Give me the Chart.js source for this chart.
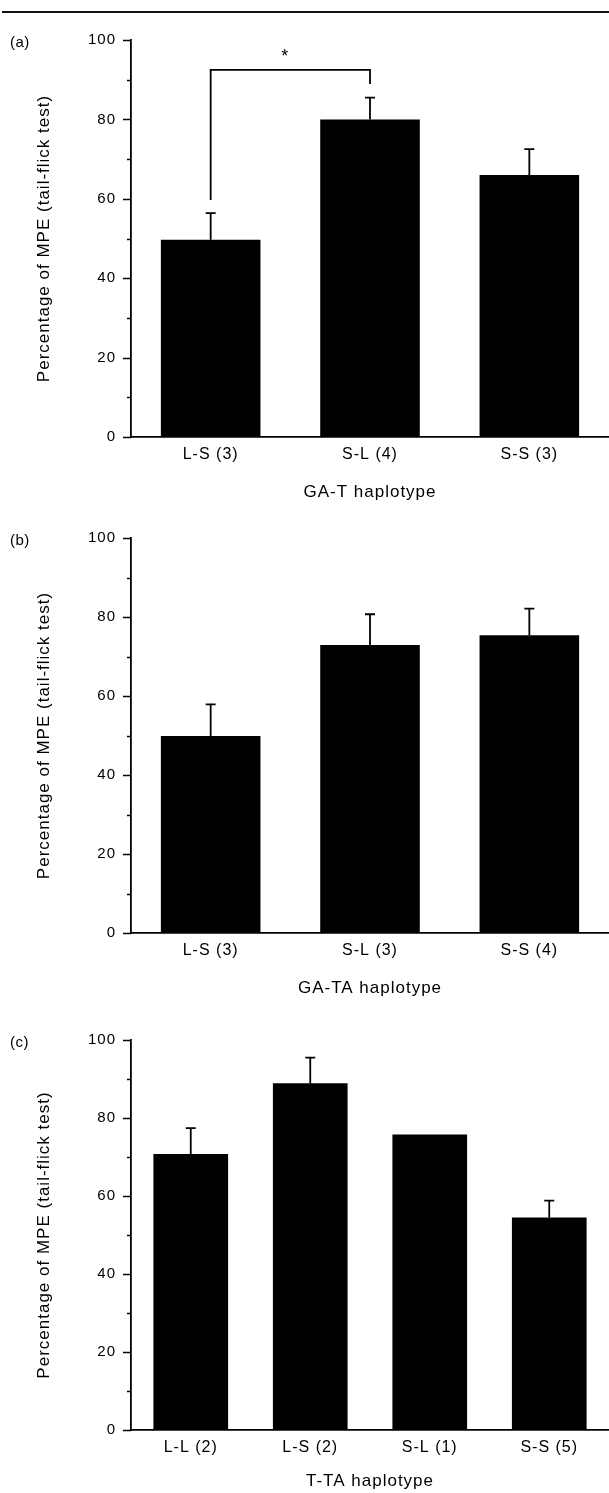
<!DOCTYPE html>
<html>
<head>
<meta charset="utf-8">
<script src="https://cdn.jsdelivr.net/npm/chart.js@4.4.1/dist/chart.umd.min.js"></script>
<style>
  html, body { margin: 0; padding: 0; background: #fff; }
  body { width: 609px; height: 1493px; position: relative; overflow: hidden; }
  .rule { position: absolute; left: 2px; right: 0; top: 11px; height: 2px; background: #111; }
  .panel { position: absolute; left: 0; }
  .tag { position: absolute; left: 10px; font: 15px "Liberation Sans", Arial, sans-serif; color: #000; letter-spacing: 0.5px; }
</style>
</head>
<body>
<div class="rule"></div>

<script>
// values (mean and top of the SEM whisker)
const yTitle = 'Percentage of MPE (tail-flick test)';
const yTicks = [0, 20, 40, 60, 80, 100];

const catsA = ['L-S (3)', 'S-L (4)', 'S-S (3)'];
const meanA = [49.7, 80.0, 66.0];
const errTopA = [56.4, 85.5, 72.5];

const catsB = ['L-S (3)', 'S-L (3)', 'S-S (4)'];
const meanB = [49.9, 72.9, 75.4];
const errTopB = [57.9, 80.7, 82.1];

const catsC = ['L-L (2)', 'L-S (2)', 'S-L (1)', 'S-S (5)'];
const meanC = [70.8, 88.9, 75.8, 54.5];
const errTopC = [77.4, 95.5, null, 58.8];

const xTitles = ['GA-T haplotype', 'GA-TA haplotype', 'T-TA haplotype'];
const panelTags = ['(a)', '(b)', '(c)'];

// significance bracket in panel (a): L-S vs S-L
const bracketPair = [0, 1];
const bracketY = [59.7, 92.5, 88.9]; // left foot, top, right foot
const bracketMark = '*';

const FONT = '"Liberation Sans", Arial, Helvetica, sans-serif';

const spacing = {
  id: 'spacing',
  beforeDraw(chart) { chart.ctx.letterSpacing = '1px'; }
};

const yMarks = {
  id: 'yMarks',
  afterDraw(chart) {
    const { ctx, chartArea } = chart;
    const y = chart.scales.y;
    ctx.save();
    ctx.strokeStyle = '#000';
    ctx.lineWidth = 1.5;
    for (let v = 0; v <= 100; v += 10) {
      const py = Math.round(y.getPixelForValue(v)) + 0.5;
      const len = v % 20 === 0 ? 8 : 4;
      ctx.beginPath();
      ctx.moveTo(chartArea.left - len, py);
      ctx.lineTo(chartArea.left, py);
      ctx.stroke();
    }
    ctx.restore();
  }
};

const errorBars = {
  id: 'errorBars',
  afterDatasetsDraw(chart, args, opts) {
    if (!opts.tops) return;
    const ctx = chart.ctx;
    const y = chart.scales.y;
    const meta = chart.getDatasetMeta(0);
    ctx.save();
    ctx.strokeStyle = '#000';
    ctx.lineWidth = 1.8;
    opts.tops.forEach((v, i) => {
      if (v == null) return;
      const bar = meta.data[i];
      const yt = y.getPixelForValue(v);
      ctx.beginPath();
      ctx.moveTo(bar.x, bar.y);
      ctx.lineTo(bar.x, yt);
      ctx.moveTo(bar.x - 5, yt);
      ctx.lineTo(bar.x + 5, yt);
      ctx.stroke();
    });
    ctx.restore();
  }
};

const bracket = {
  id: 'bracket',
  afterDatasetsDraw(chart, args, opts) {
    if (!opts.pair) return;
    const ctx = chart.ctx;
    const x = chart.scales.x, y = chart.scales.y;
    const x1 = x.getPixelForValue(opts.pair[0]);
    const x2 = x.getPixelForValue(opts.pair[1]);
    ctx.save();
    ctx.strokeStyle = '#000';
    ctx.lineWidth = 1.8;
    ctx.beginPath();
    ctx.moveTo(x1, y.getPixelForValue(opts.levels[0]));
    ctx.lineTo(x1, y.getPixelForValue(opts.levels[1]));
    ctx.lineTo(x2, y.getPixelForValue(opts.levels[1]));
    ctx.lineTo(x2, y.getPixelForValue(opts.levels[2]));
    ctx.stroke();
    ctx.fillStyle = '#000';
    ctx.font = '18px ' + FONT;
    ctx.textAlign = 'center';
    ctx.textBaseline = 'middle';
    ctx.fillText(opts.mark, (x1 + x2) / 2 - 5, y.getPixelForValue(opts.levels[1]) - 13);
    ctx.restore();
  }
};

function makePanel(idx, cats, means, tops, top100, base0, titlePad, extra) {
  const canvasTop = top100 - 40;
  const h = base0 + 70 - canvasTop;
  const wrap = document.createElement('div');
  wrap.className = 'panel';
  wrap.style.top = canvasTop + 'px';
  const canvas = document.createElement('canvas');
  canvas.width = 609;
  canvas.height = h;
  wrap.appendChild(canvas);
  document.body.appendChild(wrap);

  const tag = document.createElement('div');
  tag.className = 'tag';
  tag.textContent = panelTags[idx];
  tag.style.top = (top100 - 7) + 'px';
  document.body.appendChild(tag);

  new Chart(canvas.getContext('2d'), {
    type: 'bar',
    data: {
      labels: cats,
      datasets: [{
        data: means,
        backgroundColor: '#000',
        borderWidth: 0,
        categoryPercentage: 1,
        barPercentage: 0.625
      }]
    },
    options: {
      responsive: false,
      animation: false,
      events: [],
      layout: { padding: { top: 40, left: 0, right: 0, bottom: 0 } },
      scales: {
        x: {
          grid: { display: false, drawTicks: false },
          border: { display: true, color: '#000', width: 1.8 },
          ticks: { color: '#000', padding: 8, font: { family: FONT, size: 16 } },
          title: {
            display: true, text: xTitles[idx], color: '#000',
            font: { family: FONT, size: 17 }, padding: { top: 0, bottom: titlePad }
          },
          afterFit(scale) { scale.height = 70; }
        },
        y: {
          min: 0, max: 100,
          afterBuildTicks(scale) { scale.ticks = yTicks.map(v => ({ value: v })); },
          grid: { display: false, drawTicks: false },
          border: { display: true, color: '#000', width: 1.8 },
          ticks: { color: '#000', padding: 15, font: { family: FONT, size: 15 } },
          title: {
            display: true, text: yTitle, color: '#000',
            font: { family: FONT, size: 17 }, padding: { top: 34, bottom: 0 }
          },
          afterFit(scale) { scale.width = 131; }
        }
      },
      plugins: {
        legend: { display: false },
        tooltip: { enabled: false },
        errorBars: { tops: tops },
        bracket: extra || {}
      }
    },
    plugins: [spacing, yMarks, errorBars, bracket]
  });
}

makePanel(0, catsA, meanA, errTopA, 40, 437.5, 4,
  { pair: bracketPair, levels: bracketY, mark: bracketMark });
makePanel(1, catsB, meanB, errTopB, 538, 933, 4);
makePanel(2, catsC, meanC, errTopC, 1040, 1430, 8);
</script>
</body>
</html>
